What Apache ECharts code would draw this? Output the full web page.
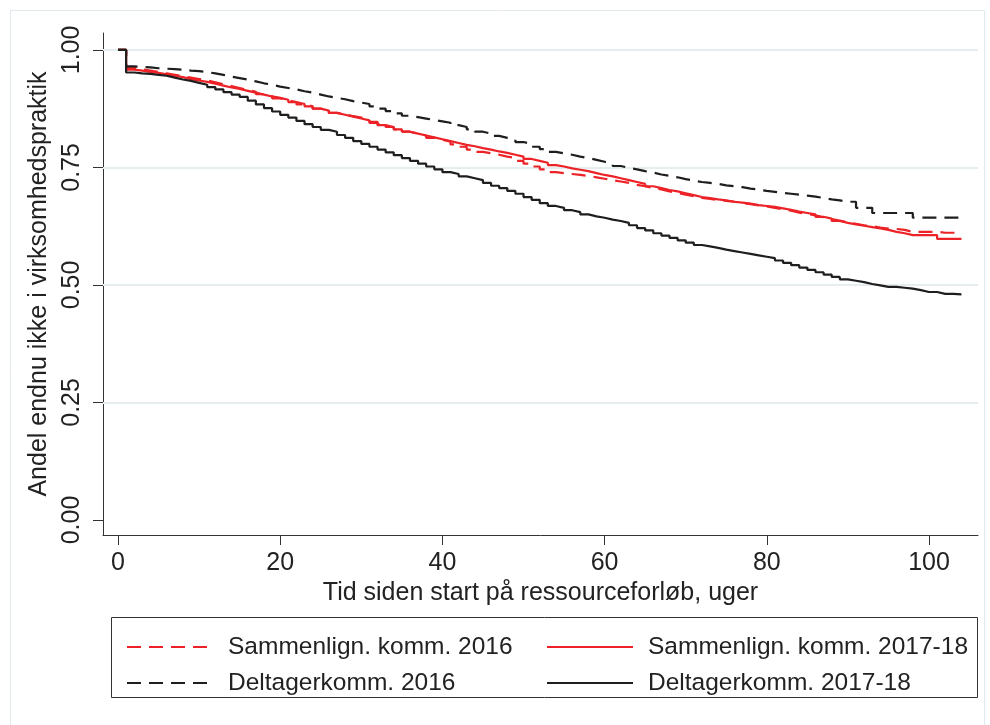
<!DOCTYPE html>
<html>
<head>
<meta charset="utf-8">
<script src="https://cdn.jsdelivr.net/npm/echarts@6/dist/echarts.min.js"></script>
<style>
html,body{margin:0;padding:0;background:#fff;}
#chart{width:990px;height:725px;}
</style>
</head>
<body>
<div id="chart"></div>
<script>
// ---- Data (weeks 0..104) ----
const weeks = Array.from({length: 105}, (_, i) => i);

const sammenlign2016 = [
1.000,0.962,0.959,0.956,0.953,0.950,0.947,0.944,0.941,0.938,
0.935,0.931,0.927,0.923,0.919,0.915,0.911,0.906,0.902,0.897,
0.893,0.889,0.884,0.880,0.875,0.871,0.866,0.863,0.859,0.856,
0.852,0.847,0.842,0.836,0.831,0.826,0.822,0.818,0.813,0.809,
0.805,0.799,0.794,0.788,0.783,0.780,0.777,0.773,0.770,0.764,
0.758,0.752,0.746,0.740,0.738,0.736,0.734,0.732,0.729,0.726,
0.723,0.720,0.717,0.713,0.710,0.706,0.703,0.699,0.696,0.692,
0.689,0.685,0.683,0.681,0.679,0.677,0.674,0.672,0.669,0.667,
0.664,0.661,0.658,0.654,0.651,0.648,0.644,0.640,0.637,0.633,
0.630,0.627,0.625,0.622,0.620,0.619,0.617,0.613,0.613,0.613,
0.613,0.611,0.611,0.611,0.611];

const sammenlign2017_18 = [
1.000,0.958,0.956,0.953,0.951,0.948,0.945,0.942,0.938,0.935,
0.932,0.928,0.924,0.920,0.917,0.913,0.909,0.905,0.901,0.898,
0.894,0.889,0.885,0.880,0.875,0.871,0.866,0.862,0.858,0.854,
0.850,0.845,0.840,0.836,0.831,0.826,0.822,0.818,0.814,0.810,
0.806,0.802,0.798,0.795,0.791,0.788,0.784,0.781,0.777,0.773,
0.768,0.764,0.760,0.755,0.752,0.748,0.745,0.742,0.738,0.734,
0.731,0.727,0.723,0.719,0.715,0.710,0.706,0.702,0.699,0.695,
0.691,0.687,0.685,0.682,0.680,0.677,0.675,0.673,0.670,0.668,
0.666,0.663,0.660,0.656,0.653,0.650,0.645,0.641,0.636,0.632,
0.629,0.626,0.623,0.620,0.617,0.613,0.610,0.606,0.606,0.606,
0.606,0.598,0.598,0.598,0.598];

const deltager2016 = [
1.000,0.965,0.964,0.963,0.961,0.960,0.959,0.958,0.956,0.955,
0.953,0.950,0.947,0.943,0.940,0.937,0.933,0.929,0.926,0.922,
0.919,0.916,0.912,0.909,0.905,0.901,0.898,0.895,0.891,0.888,
0.885,0.880,0.875,0.870,0.865,0.860,0.857,0.854,0.851,0.848,
0.845,0.840,0.836,0.831,0.826,0.822,0.817,0.813,0.809,0.804,
0.800,0.794,0.789,0.783,0.780,0.777,0.773,0.770,0.766,0.762,
0.758,0.753,0.749,0.746,0.742,0.739,0.735,0.732,0.729,0.725,
0.722,0.719,0.717,0.715,0.712,0.710,0.708,0.705,0.703,0.700,
0.698,0.696,0.694,0.692,0.690,0.688,0.685,0.682,0.680,0.677,
0.677,0.664,0.664,0.653,0.653,0.653,0.653,0.653,0.643,0.643,
0.643,0.643,0.643,0.643,0.643];

const deltager2017_18 = [
1.000,0.952,0.950,0.949,0.947,0.945,0.941,0.937,0.934,0.930,
0.926,0.921,0.916,0.910,0.905,0.900,0.892,0.884,0.876,0.869,
0.862,0.856,0.849,0.842,0.836,0.830,0.826,0.819,0.813,0.806,
0.800,0.794,0.788,0.782,0.776,0.770,0.764,0.758,0.752,0.746,
0.740,0.736,0.731,0.727,0.723,0.717,0.711,0.706,0.700,0.694,
0.687,0.681,0.674,0.668,0.664,0.659,0.655,0.650,0.646,0.643,
0.639,0.636,0.632,0.627,0.621,0.616,0.610,0.605,0.600,0.595,
0.590,0.585,0.582,0.579,0.575,0.572,0.569,0.566,0.563,0.560,
0.557,0.552,0.547,0.542,0.537,0.532,0.527,0.522,0.517,0.512,
0.509,0.506,0.502,0.499,0.496,0.496,0.494,0.492,0.489,0.485,
0.485,0.481,0.481,0.480,0.480];

const xTicks = [0, 20, 40, 60, 80, 100];
const yTicks = [0, 0.25, 0.5, 0.75, 1];
const gridValues = [0.25, 0.5, 0.75, 1];

const seriesNames = ['Sammenlign. komm. 2016', 'Sammenlign. komm. 2017-18', 'Deltagerkomm. 2016', 'Deltagerkomm. 2017-18'];
const xTitle = 'Tid siden start på ressourceforløb, uger';
const yTitle = 'Andel endnu ikke i virksomhedspraktik';

// ---- Chart ----
const RED = '#ec2227';
const BLACK = '#1e1e1e';
const FONT = '"Liberation Sans", Arial, Helvetica, sans-serif';
const FS = 25;
const pairs = vals => weeks.map((w, i) => [w, vals[i]]);

function mkSeries(name, vals, color, dashed, z) {
  return {
    name: name,
    type: 'line',
    step: 'end',
    data: pairs(vals),
    symbol: 'none',
    z: z,
    lineStyle: { color: color, width: 2.2, type: dashed ? [14, 8] : 'solid' },
    itemStyle: { color: color },
    emphasis: { disabled: true },
    animation: false
  };
}

const chart = echarts.init(document.getElementById('chart'), null, { renderer: 'canvas' });

const legendText = { fontFamily: FONT, fontSize: 24.5, color: '#222', lineHeight: 30, padding: [0, 0, 0, 10] };
const legendCommon = { orient: 'vertical', top: 627, itemWidth: 86, itemHeight: 14, itemGap: 6,
  textStyle: legendText, selectedMode: false, itemStyle: { opacity: 0, borderWidth: 0 } };

chart.setOption({
  backgroundColor: '#ffffff',
  animation: false,
  textStyle: { fontFamily: FONT },
  graphic: [
    { type: 'rect', shape: { x: 10.5, y: 10.5, width: 974, height: 760 },
      style: { fill: 'none', stroke: '#e3eaee', lineWidth: 1 }, z: 0, silent: true },
    { type: 'rect', shape: { x: 111.5, y: 617.5, width: 866, height: 80 },
      style: { fill: '#fff', stroke: '#333', lineWidth: 1 }, z: 0, silent: true }
  ],
  grid: { left: 103, right: 12, top: 33, bottom: 190, containLabel: false },
  xAxis: {
    type: 'value',
    min: -1.85,
    max: 106.04,
    name: xTitle,
    nameLocation: 'middle',
    nameGap: 40,
    nameTextStyle: { fontFamily: FONT, fontSize: FS, color: '#222' },
    axisLine: { show: true, onZero: false, lineStyle: { color: '#333', width: 1 } },
    axisTick: { show: true, length: 10, customValues: xTicks, lineStyle: { color: '#333', width: 1 } },
    axisLabel: { customValues: xTicks, fontFamily: FONT, fontSize: FS, color: '#222', margin: 16 },
    splitLine: { show: false }
  },
  yAxis: {
    type: 'value',
    min: -0.032,
    max: 1.036,
    name: yTitle,
    nameLocation: 'middle',
    nameGap: 42,
    nameRotate: 90,
    nameTextStyle: { fontFamily: FONT, fontSize: FS, color: '#222' },
    axisLine: { show: true, onZero: false, lineStyle: { color: '#333', width: 1 } },
    axisTick: { show: true, length: 10, customValues: yTicks, lineStyle: { color: '#333', width: 1 } },
    axisLabel: { customValues: yTicks, rotate: 90, fontFamily: FONT, fontSize: FS, color: '#222', margin: 18,
      formatter: v => v.toFixed(2) },
    splitLine: { show: false }
  },
  legend: [
    Object.assign({ left: 121, data: [seriesNames[0], seriesNames[2]] }, legendCommon),
    Object.assign({ left: 541, data: [seriesNames[1], seriesNames[3]] }, legendCommon)
  ],
  series: [
    {
      name: '__grid', type: 'line', data: [], silent: true, z: 1,
      markLine: {
        silent: true, symbol: ['none', 'none'], animation: false, z: 1,
        label: { show: false },
        lineStyle: { color: '#e6edf1', width: 2, type: 'solid' },
        data: gridValues.map(v => ({ yAxis: v }))
      }
    },
    mkSeries(seriesNames[0], sammenlign2016, RED, true, 3),
    mkSeries(seriesNames[1], sammenlign2017_18, RED, false, 3),
    mkSeries(seriesNames[2], deltager2016, BLACK, true, 4),
    mkSeries(seriesNames[3], deltager2017_18, BLACK, false, 4)
  ]
});
</script>
</body>
</html>
